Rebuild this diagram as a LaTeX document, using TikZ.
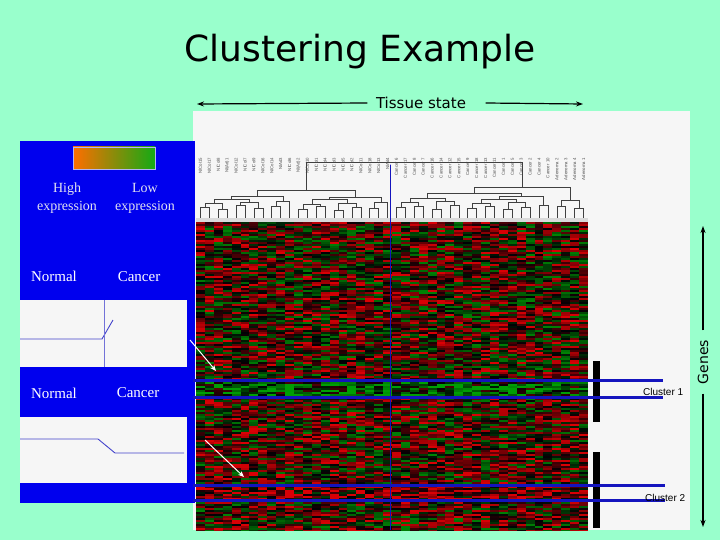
\documentclass[tikz,border=0pt]{standalone}
\usepackage{fontspec}
\setmainfont{Liberation Serif}
\newfontfamily\ttlfont{DejaVu Sans}
\newfontfamily\arialf{Liberation Sans}
\definecolor{mint}{RGB}{153,255,204}
\definecolor{pblue}{RGB}{0,0,238}
\definecolor{lineblue}{RGB}{20,20,190}
\definecolor{paper}{RGB}{246,246,246}
\definecolor{ptext}{RGB}{225,225,240}
\definecolor{gorange}{RGB}{255,110,0}
\definecolor{ggreen}{RGB}{20,170,20}
\usetikzlibrary{arrows.meta}
\begin{document}
\begin{tikzpicture}[x=1pt,y=-1pt,
  ptx/.style={font=\fontsize{14}{18}\selectfont, text=ptext, align=center},
  lbl/.style={font=\arialf\fontsize{4.3}{5}\selectfont, text=black!70, rotate=90, anchor=east, inner sep=0},
  dd/.style={draw=black!75, line width=0.6pt},
  bl/.style={draw=lineblue, line width=3pt},
  big/.style={-{Stealth[length=7pt,width=5pt]}, line width=1.2pt},
  wa/.style={draw=white, line width=1pt, -{Stealth[length=6pt,width=5pt]}},
  cl/.style={font=\arialf\fontsize{10}{11}\selectfont, anchor=west, inner sep=0}]
\fill[mint] (0,0) rectangle (720,540);
\useasboundingbox (0,0) rectangle (720,540);
\node[font=\ttlfont\fontsize{36}{40}\selectfont] (title) at (360,52) {Clustering Example};
\node[font=\ttlfont\fontsize{15}{16}\selectfont] (tissue) at (421,103) {Tissue state};
\coordinate (tl) at (197,104); \coordinate (tr) at (583,104);
\draw[big] (tissue.west) ++(-5,0) -- (tl);
\draw[big] (tissue.east) ++(16,0) -- (tr);
% white panel
\fill[paper] (193,111) rectangle (690,530);
% left blue panel
\fill[pblue] (20,141) rectangle (195,503);
\shade[left color=gorange, right color=ggreen] (73,147) rectangle (155,169);
\draw[ptext!80!blue] (73,147) rectangle (155,169);
\node[ptx] (hi) at (67,198) {High\\expression};
\node[ptx] (lo) at (145,198) {Low\\expression};
\node[ptx,text=white,font=\fontsize{15}{16}\selectfont] (n1) at (54,276) {Normal};
\node[ptx,text=white,font=\fontsize{15}{16}\selectfont] (c1) at (139,277) {Cancer};
\fill[paper] (20,300) rectangle (187,367);
\draw[lineblue!80, line width=0.9pt] (20,339) -- (102,339) -- (113,320);
\draw[lineblue!60, line width=0.8pt] (104,300) -- (104,367);
\node[ptx,text=white,font=\fontsize{15}{16}\selectfont] (n2) at (54,393) {Normal};
\node[ptx,text=white,font=\fontsize{15}{16}\selectfont] (c2) at (138,393) {Cancer};
\fill[paper] (20,417) rectangle (187,483);
\draw[lineblue!80, line width=0.9pt] (20,439) -- (98,439) -- (115,453) -- (184,453);
% heatmap
\pgfmathsetseed{11}
\begin{scope}
\clip (196,222) rectangle (588,530);
\fill[black!90!red] (196,222) rectangle (588,530);
\foreach \j in {0,...,154}{
  \pgfmathsetmacro\yy{222+2*\j}
  \pgfmathsetmacro\bias{(\yy>=380 && \yy<397) ? -0.5 : ((\yy>=485 && \yy<500) ? 0.5 : 0.12)}
  \foreach \i in {0,...,43}{
    \pgfmathsetmacro\v{rand*0.95+\bias}
    \pgfmathsetmacro\rr{max(min(\v,1),0)*0.85}
    \pgfmathsetmacro\gg{max(min(-\v,1),0)*0.62}
    \definecolor{hc}{rgb}{\rr,\gg,0.02}
    \fill[hc] ({196+8.91*\i},\yy) rectangle ({196+8.91*(\i+1)+0.3},\yy+2.2);
  }
}
\end{scope}
\fill[black!15] (196,218) rectangle (588,222);
% column labels
\foreach \t [count=\k from 0] in {NlCol15,NlCol17,NlCol8,Nl(Ad)1,NlCol12,NlCol7,NlCol9,NlCol16,NlCol14,NlAd3,NlCol6,Nl(Ad)2,NlCol10,NlCol1,NlCol4,NlCol3,NlCol5,NlCol2,NlCol11,NlCol18,NlCol13,NlAd4,Cancer 6,Cancer 17,Cancer 8,Cancer 7,Cancer 16,Cancer 14,Cancer 12,Cancer 15,Cancer 9,Cancer 18,Cancer 13,Cancer 11,Cancer 1,Cancer 5,Cancer 3,Cancer 2,Cancer 4,Cancer 10,Adenoma 2,Adenoma 3,Adenoma 4,Adenoma 1}
  \node[lbl] (L\k) at ({196+8.91*(\k+0.5)},158) {\t};
% dendrogram
\newcommand\jn[5]{\draw[dd] ({196+8.91*(#1+0.5)},#2) |- ({196+8.91*(#3+0.5)},#5) -- ({196+8.91*(#3+0.5)},#4);}
\foreach \a/\b/\h in {0/1/207,2/3/209,4/5/205,6/7/208,8/9/206,11/12/209,13/14/206,15/16/210,17/18/207,19/20/208,22/23/207,24/25/206,26/27/209,28/29/205,30/31/208,32/33/206,34/35/209,36/37/207,38/39/205,40/41/206,42/43/208}
  \jn{\a}{218}{\b}{218}{\h}
\jn{0.5}{207}{2.5}{209}{203}
\jn{4.5}{205}{6.5}{208}{202}
\jn{8.5}{206}{10}{218}{201}
\jn{11.5}{209}{13.5}{206}{204}
\jn{15.5}{210}{17.5}{207}{203}
\jn{19.5}{208}{21}{218}{202}
\jn{1.5}{203}{5.5}{202}{199}
\jn{3.5}{199}{9.25}{201}{196}
\jn{12.5}{204}{16.5}{203}{199}
\jn{14.5}{199}{20.25}{202}{197}
\jn{6.375}{196}{17.375}{197}{190}
\jn{22.5}{207}{24.5}{206}{202}
\jn{26.5}{209}{28.5}{205}{201}
\jn{30.5}{208}{32.5}{206}{203}
\jn{34.5}{209}{36.5}{207}{202}
\jn{23.5}{202}{27.5}{201}{198}
\jn{31.5}{203}{35.5}{202}{199}
\jn{33.5}{199}{38.5}{205}{196}
\jn{25.5}{198}{36}{196}{193}
\jn{40.5}{206}{42.5}{208}{200}
\jn{30.75}{193}{41.5}{200}{187}
\jn{11.875}{190}{36.125}{187}{162}
% blue divider
\draw[lineblue, line width=0.8pt] (390,165) -- (390,530);
% cluster bars
\fill[black] (593,361) rectangle (600,422);
\fill[black] (593,452) rectangle (600,528);
\coordinate (a1) at (193,380); \coordinate (b1) at (663,380);
\coordinate (a2) at (193,397); \coordinate (b2) at (663,397);
\coordinate (a3) at (193,485); \coordinate (b3) at (665,485);
\coordinate (a4) at (193,500); \coordinate (b4) at (665,500);
\draw[bl] (a1) -- (b1); \draw[bl] (a2) -- (b2);
\draw[bl] (a3) -- (b3); \draw[bl] (a4) -- (b4);
\node[cl] (k1) at (643,392) {Cluster 1};
\node[cl] (k2) at (645,498) {Cluster 2};
% white arrows
\coordinate (w1) at (190,340); \coordinate (w2) at (216,371);
\coordinate (w3) at (205,440); \coordinate (w4) at (244,477);
\draw[wa] (w1) -- (w2);
\draw[wa] (w3) -- (w4);
% genes
\node[font=\ttlfont\fontsize{14}{15}\selectfont, rotate=90] (genes) at (703,362) {Genes};
\coordinate (gt) at (703,226); \coordinate (gb) at (703,527);
\draw[big] (genes.east) ++(0,-6) -- (gt);
\draw[big] (genes.west) ++(0,6) -- (gb);
\end{tikzpicture}
\end{document}
